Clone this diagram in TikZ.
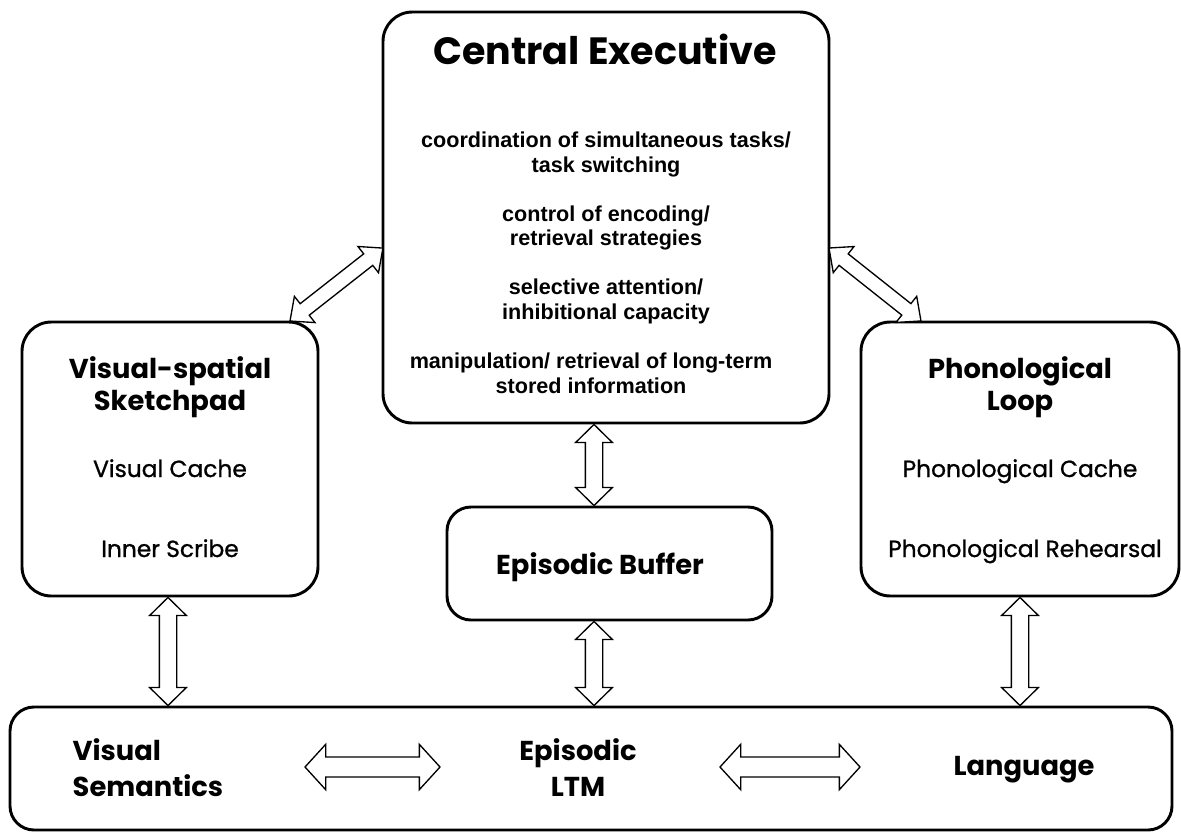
\documentclass[tikz,border=0pt]{standalone}
\usepackage{fontspec}
\setmainfont{Liberation Sans}
\newfontfamily\popfont{Poppins}
\newfontfamily\popmed{Poppins}[FakeBold=1]
\usetikzlibrary{calc}
\tikzset{
  box/.style={draw, line width=2.2pt, rounded corners=22pt, inner sep=0pt},
  blockarr/.style={draw, line width=1pt, fill=white, line join=miter},
  ttl/.style={font=\popfont\bfseries\fontsize{20.5}{24}\selectfont, align=center},
  big/.style={font=\popfont\bfseries\fontsize{28.5}{30}\selectfont, anchor=base},
  sub/.style={font=\popmed\fontsize{17.5}{20}\selectfont, anchor=base},
  body/.style={font=\bfseries\fontsize{16.2}{18.5}\selectfont, align=center},
  bot/.style={font=\popfont\bfseries\fontsize{20.5}{27}\selectfont},
}
\newcommand{\barrow}[5]{%
  \path let \p1=($(#2)-(#1)$), \n1={veclen(\x1,\y1)}, \n2={atan2(\y1,\x1)} in
    \pgfextra{\xdef\barlen{\n1}\xdef\barang{\n2}};
  \begin{scope}[shift={(#1)}, rotate=\barang]
    \draw[blockarr] (0pt,0pt) -- (#5pt,#4pt) -- (#5pt,#3pt) -- (\barlen-#5pt,#3pt)
      -- (\barlen-#5pt,#4pt) -- (\barlen,0pt) -- (\barlen-#5pt,-#4pt)
      -- (\barlen-#5pt,-#3pt) -- (#5pt,-#3pt) -- (#5pt,-#4pt) -- cycle;
  \end{scope}}
\begin{document}
\begin{tikzpicture}[x=0.75pt,y=-0.75pt]
\useasboundingbox (0,0) rectangle (1181,836);
% boxes
\node[box, minimum width=446*0.75pt, minimum height=411*0.75pt] (ce) at (606,217.5) {};
\node[box, minimum width=296*0.75pt, minimum height=274*0.75pt] (vss) at (170,459) {};
\node[box, minimum width=318*0.75pt, minimum height=274*0.75pt] (pl) at (1020,459) {};
\node[box, minimum width=325*0.75pt, minimum height=113*0.75pt, rounded corners=18pt] (eb) at (609.5,563.5) {};
\node[box, minimum width=1162*0.75pt, minimum height=123*0.75pt, rounded corners=18pt] (btm) at (591,768.5) {};
% texts
\node[big] (cet) at (605,64) {Central Executive};
\node[body] (c1) at (606,154.5) {coordination of simultaneous tasks/\\task switching};
\node[body] (c2) at (606,228) {control of encoding/\\retrieval strategies};
\node[body] (c3) at (606,301.5) {selective attention/\\inhibitional capacity};
\node[body] (c4) at (591,373.5) {manipulation/ retrieval of long-term\\stored information};
\node[ttl] (vsst) at (170,387) {Visual-spatial\\Sketchpad};
\node[sub] (vc) at (170,477) {Visual Cache};
\node[sub] (is) at (170,557) {Inner Scribe};
\node[ttl] (plt) at (1020,387) {Phonological\\Loop};
\node[sub] (pc) at (1020,477) {Phonological Cache};
\node[sub] (pr) at (1025,557) {Phonological Rehearsal};
\node[ttl] (ebt) at (600,567) {Episodic Buffer};
\node[bot, align=left, anchor=west] (vs) at (68,768) {Visual\\Semantics};
\node[bot, align=center] (el) at (578,768) {Episodic\\LTM};
\node[bot] (lg) at (1024,770) {Language};
% arrow end points
\coordinate (a1) at (290,321);
\coordinate (a2) at (383,248);
\coordinate (b1) at (829,248);
\coordinate (b2) at (921,321);
\coordinate (c1s) at (ce.south -| 594,0);
\coordinate (c1e) at (eb.north -| 594,0);
\coordinate (d1) at (vss.south -| 168,0);
\coordinate (d2) at (btm.north -| 168,0);
\coordinate (e1) at (eb.south -| 594,0);
\coordinate (e2) at (btm.north -| 594,0);
\coordinate (f1) at (pl.south -| 1020,0);
\coordinate (f2) at (btm.north -| 1020,0);
\coordinate (g1) at (305,767);
\coordinate (g2) at (440,767);
\coordinate (h1) at (720,767);
\coordinate (h2) at (860,767);
\barrow{a1}{a2}{5.5}{12.5}{14}
\barrow{b1}{b2}{5.5}{12.5}{14}
\barrow{c1s}{c1e}{6.5}{13.75}{13.5}
\barrow{d1}{d2}{6.5}{13.75}{13.5}
\barrow{e1}{e2}{6.5}{13.75}{13.5}
\barrow{f1}{f2}{6.5}{13.75}{13.5}
\barrow{g1}{g2}{7.5}{17}{15.5}
\barrow{h1}{h2}{7.5}{17}{15.5}
\end{tikzpicture}
\end{document}
